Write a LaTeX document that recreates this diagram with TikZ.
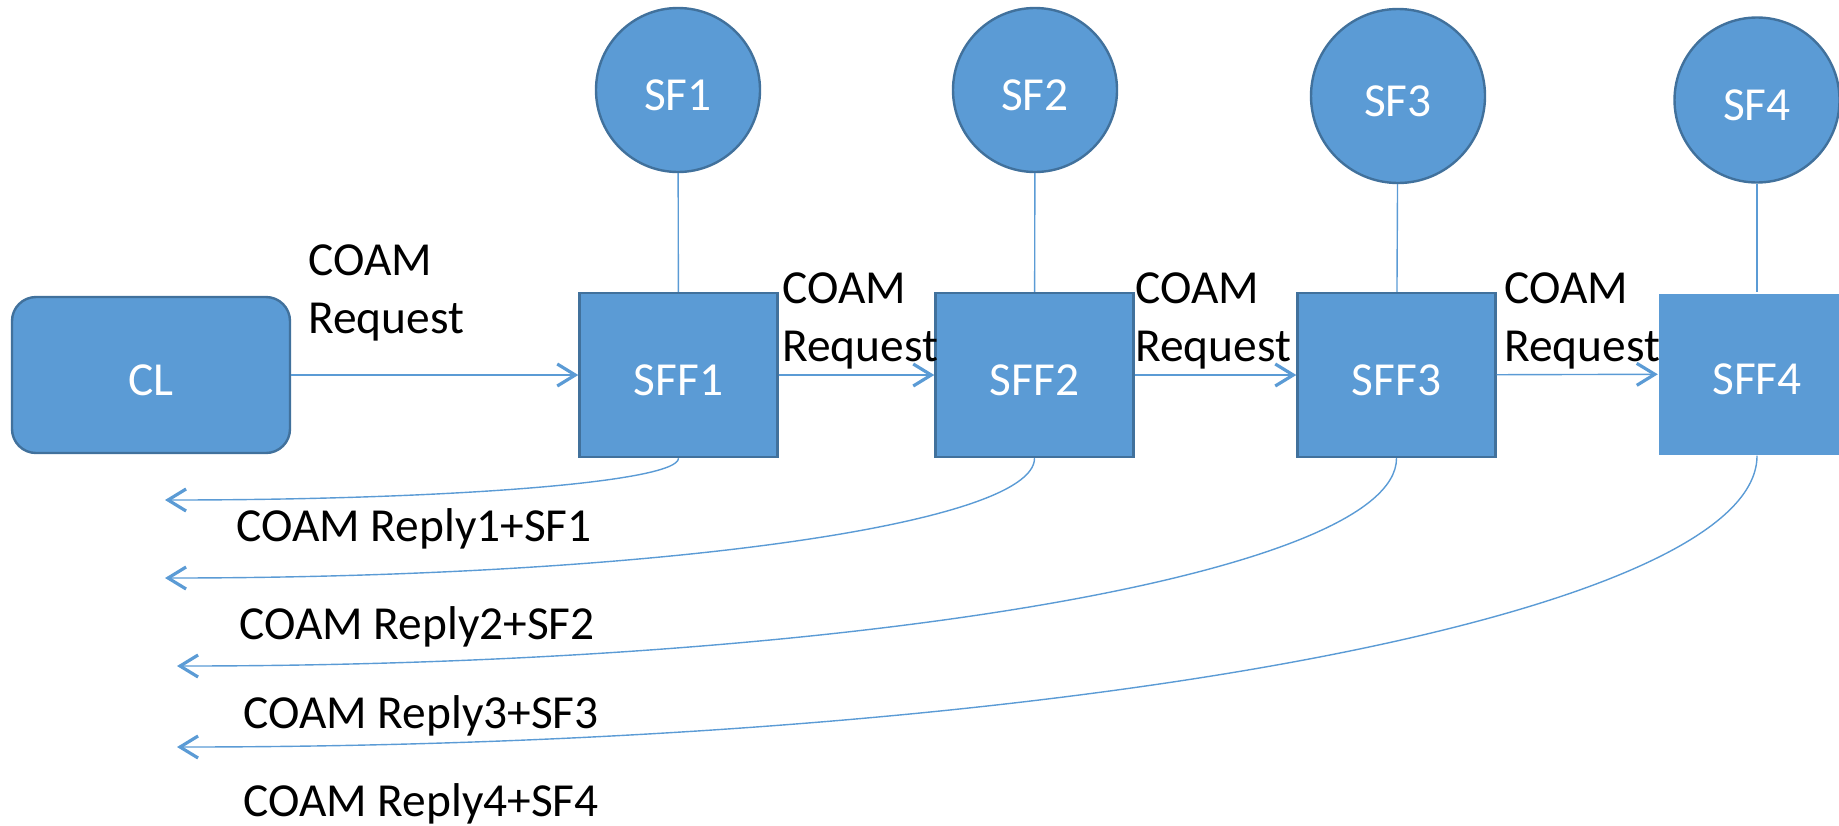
\documentclass[tikz,border=0pt]{standalone}
\usepackage{fontspec}
\setmainfont{Carlito}
\usepackage{xcolor}
\usetikzlibrary{arrows.meta}
\definecolor{boxblue}{HTML}{5B9BD5}
\definecolor{edgeblue}{HTML}{41719C}

\begin{document}
\begin{tikzpicture}[x=0.5pt,y=-0.5pt,
  every node/.style={font=\fontsize{23.7}{29}\selectfont},
  sfbox/.style={draw=edgeblue,line width=1.2pt,fill=boxblue,text=white,
    minimum width=99pt,minimum height=82pt,inner sep=0pt,
    text height=20pt,text depth=0pt},
  sfcircle/.style={circle,draw=edgeblue,line width=1.2pt,fill=boxblue,
    text=white,inner sep=0pt,text height=20pt,text depth=0pt},
  link/.style={draw=boxblue,line width=0.7pt},
  msg/.style={link,-{Straight Barb[length=9pt,width=11pt,line width=1.6pt]}},
  lbl/.style={inner sep=0pt,align=left}]

\useasboundingbox (0,0) rectangle (1839,825);

\node[sfbox,rounded corners=12pt][minimum width=139pt,minimum height=78pt] (CL) at (151,375) {CL};

\node[sfbox] (SFF1) at (678.5,375) {SFF1};
\node[sfbox] (SFF2) at (1034.5,375) {SFF2};
\node[sfbox] (SFF3) at (1396.5,375) {SFF3};
\node[sfbox,draw=none][minimum width=98pt,minimum height=80.5pt] (SFF4) at (1757,374) {SFF4};
%%%
\node[sfcircle,minimum size=82pt] (SF1) at (678,90) {SF1};
\node[sfcircle,minimum size=82pt] (SF2) at (1035,90) {SF2};
\node[sfcircle,minimum size=87pt] (SF3) at (1398,96) {SF3};
\node[sfcircle,minimum size=82.5pt] (SF4) at (1757,100) {SF4};

\draw[link] (SF1) -- (SFF1);
\draw[link] (SF2) -- (SFF2);
\draw[link] (SF3) -- (SFF3);
\draw[link] (SF4) -- (SFF4);
%%%
\draw[msg] (CL) -- (SFF1);
\draw[msg] (SFF1) -- (SFF2);
\draw[msg] (SFF2) -- (SFF3);
\draw[msg] (SFF3) -- (SFF4);

\node[lbl,anchor=north west] (req1) at (308,244) {COAM\\Request};
\node[lbl,anchor=north west] (req2) at (782,272) {COAM\\Request};
\node[lbl,anchor=north west] (req3) at (1135,272) {COAM\\Request};
\node[lbl,anchor=north west] (req4) at (1504,272) {COAM\\Request};
%%%
\coordinate (r1) at (165,500);
\coordinate (r2) at (165,578);
\coordinate (r3) at (177,666);
\coordinate (r4) at (177,747);

\draw[msg] (SFF1.south) .. controls +(0,24) and +(283,0) .. (r1);
\draw[msg] (SFF2.south) .. controls +(0,67) and +(480,0) .. (r2);
\draw[msg] (SFF3.south) .. controls +(0,115) and +(673,0) .. (r3);
\draw[msg] (SFF4.south) .. controls +(0,161) and +(872,0) .. (r4);

\node[inner sep=0pt,anchor=base west] (rep1) at (236,541) {COAM Reply1+SF1};
\node[inner sep=0pt,anchor=base west] (rep2) at (239,639) {COAM Reply2+SF2};
\node[inner sep=0pt,anchor=base west] (rep3) at (243,728) {COAM Reply3+SF3};
\node[inner sep=0pt,anchor=base west] (rep4) at (243,816) {COAM Reply4+SF4};
\end{tikzpicture}
\end{document}
